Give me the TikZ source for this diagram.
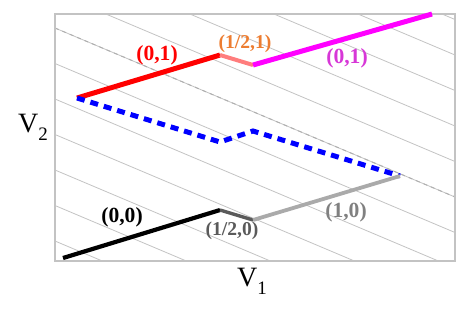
\documentclass[tikz,border=0pt]{standalone}
\usepackage{fontspec}
\setmainfont{Liberation Serif}
\usetikzlibrary{positioning}
\definecolor{linered}{RGB}{255,0,0}
\definecolor{linemagenta}{RGB}{255,0,255}
\definecolor{lineblue}{RGB}{0,0,255}
\definecolor{lineorange}{RGB}{237,125,49}
\definecolor{linesalmon}{RGB}{255,125,125}
\definecolor{labelmagenta}{RGB}{215,55,215}
\definecolor{darkseg}{RGB}{90,90,90}
\definecolor{lightseg}{RGB}{170,170,170}
\definecolor{gridgray}{RGB}{195,195,195}
\definecolor{framegray}{RGB}{195,195,195}
\definecolor{tiegray}{RGB}{175,175,175}

\begin{document}
\begin{tikzpicture}[
  x=0.5pt, y=-0.5pt,
  frame/.style={draw=framegray, line width=0.65pt},
  level/.style={draw=gridgray, line width=0.4pt},
  tie/.style={draw=tiegray, line width=0.5pt, dash pattern=on 2pt off 2pt},
  seg/.style={line width=2.5pt},
  lbl/.style={font=\bfseries\fontsize{10.8}{12}\selectfont, inner sep=0pt},
  half/.style={font=\bfseries\fontsize{9.8}{11}\selectfont, inner sep=0pt},
  axis/.style={font=\fontsize{14}{16}\selectfont, inner sep=0pt}
]
\useasboundingbox (0,0) rectangle (469,313);

%% level lines, clipped to the plot box
\begin{scope}
  \clip (55,14) rectangle (455,261);
  \foreach \k in {-5,...,6}
    \draw[level] (55,{28+35.5*\k}) -- (455,{197+35.5*\k});
\end{scope}
\draw[tie] (55,28) -- (455,197);
\draw[frame] (55,14) rectangle (455,261);

%% corner points of the paths
\coordinate (start) at (77,98);
\coordinate (rtop)  at (220,55);
\coordinate (rdip)  at (253,65);
\coordinate (rend)  at (432,14);
\coordinate (bdip)  at (220,142);
\coordinate (btop)  at (253,131);
\coordinate (meet)  at (400,176);
\coordinate (kstart) at (63,258);
\coordinate (ktop)  at (220,210);
\coordinate (kdip)  at (253,220);

\draw[seg, linered] (start) -- (rtop);
\draw[seg, linesalmon, line width=2pt] (rtop) -- (rdip);
\draw[seg, linemagenta] (rdip) -- (rend);
\draw[seg, lineblue, dash pattern=on 4pt off 3pt] (start) -- (bdip) -- (btop) -- (meet);
\draw[seg, black, line width=2.1pt] (kstart) -- (ktop);
\draw[seg, darkseg, line width=1.7pt] (ktop) -- (kdip);
\draw[seg, lightseg, line width=1.9pt] (kdip) -- (meet);

\node[lbl, text=linered]      (l01)  at (157,55)  {(0,1)};
\node[half, text=lineorange]  (lh1)  at (245,44)  {(1/2,1)};
\node[lbl, text=labelmagenta] (l01b) at (347,58)  {(0,1)};
\node[lbl, text=black]        (l00)  at (122,217) {(0,0)};
\node[half, text=darkseg]     (lh0)  at (232,231) {(1/2,0)};
\node[lbl, text=gray]         (l10)  at (346,212) {(1,0)};

\node[axis] (vtwo) at (33,127) {V\raisebox{-0.6ex}{\fontsize{9.5}{10}\selectfont 2}};
\node[axis] (vone) at (252,281) {V\raisebox{-0.6ex}{\fontsize{9.5}{10}\selectfont 1}};
\end{tikzpicture}
\end{document}
